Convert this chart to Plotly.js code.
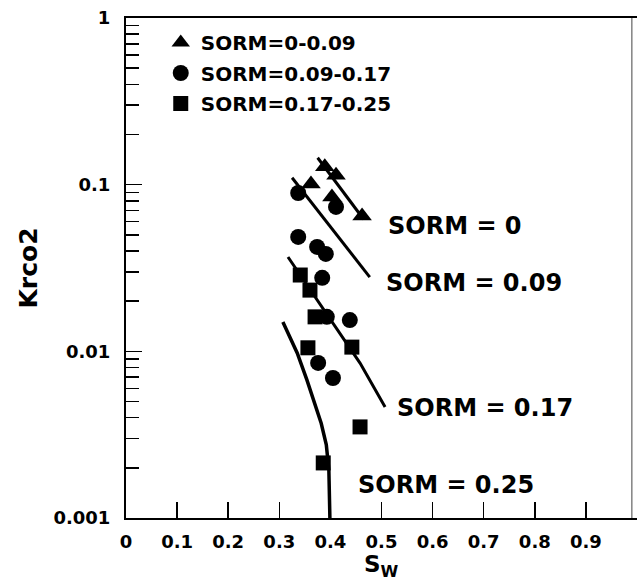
<!DOCTYPE html>
<html>
<head>
<meta charset="utf-8">
<script src="https://cdn.plot.ly/plotly-3.0.1.min.js"></script>
<style>html,body{margin:0;padding:0;background:#fff;}#chart{width:637px;height:583px;}</style>
</head>
<body>
<div id="chart"></div>
<script>
// Measured points (Sw, Krco2)
const triSw = [0.389, 0.411, 0.362, 0.403, 0.462];
const triKr = [0.128, 0.114, 0.101, 0.0844, 0.0649];

const cirSw = [0.337, 0.411, 0.337, 0.374, 0.391, 0.384, 0.393, 0.438, 0.376, 0.405];
const cirKr = [0.0891, 0.0735, 0.0486, 0.0423, 0.0384, 0.0276, 0.0161, 0.0154, 0.00852, 0.00692];

const sqSw = [0.341, 0.360, 0.370, 0.442, 0.356, 0.458, 0.386];
const sqKr = [0.0287, 0.0233, 0.0161, 0.0106, 0.0105, 0.00352, 0.00214];

// Model curves
const c0Sw = [0.375, 0.465];
const c0Kr = [0.145, 0.062];
const c09Sw = [0.325, 0.477];
const c09Kr = [0.110, 0.0279];
const c17Sw = [0.317, 0.458, 0.507];
const c17Kr = [0.0368, 0.0085, 0.00464];
const c25Sw = [0.307, 0.322, 0.335, 0.354, 0.370, 0.382, 0.392, 0.397, 0.399];
const c25Kr = [0.0150, 0.0120, 0.00978, 0.00674, 0.00480, 0.00370, 0.00275, 0.00194, 0.001];

const legendNames = ['SORM=0-0.09', 'SORM=0.09-0.17', 'SORM=0.17-0.25'];
const curveLabels = ['SORM = 0', 'SORM = 0.09', 'SORM = 0.17', 'SORM = 0.25'];
const curveLabelSw = [0.509, 0.505, 0.527, 0.450];
const curveLabelKr = [0.0565, 0.0257, 0.00457, 0.00158];

const xTitle = 'S<sub>W</sub>';
const yTitle = 'Krco2';
const yMajor = [0.001, 0.01, 0.1, 1];
const yMajorText = ['0.001', '0.01', '0.1', '1'];

const FONT = 'DejaVu Sans, Liberation Sans, Arial, sans-serif';

const yMinor = [];
for (let d = -3; d < 0; d++) {
  for (let m = 2; m <= 9; m++) yMinor.push(m * Math.pow(10, d));
}

const lineStyle = {color: '#000', width: 3};
const traces = [
  {x: triSw, y: triKr, mode: 'markers', name: legendNames[0], legendgroup: 'a',
   marker: {symbol: 'triangle-up', size: 17, color: '#000'}},
  {x: cirSw, y: cirKr, mode: 'markers', name: legendNames[1], legendgroup: 'b',
   marker: {symbol: 'circle', size: 16, color: '#000'}},
  {x: sqSw, y: sqKr, mode: 'markers', name: legendNames[2], legendgroup: 'c',
   marker: {symbol: 'square', size: 15, color: '#000'}},
  {x: c0Sw, y: c0Kr, mode: 'lines', line: lineStyle, showlegend: false},
  {x: c09Sw, y: c09Kr, mode: 'lines', line: lineStyle, showlegend: false},
  {x: c17Sw, y: c17Kr, mode: 'lines', line: lineStyle, showlegend: false},
  {x: c25Sw, y: c25Kr, mode: 'lines', line: {color: '#000', width: 3.5}, showlegend: false}
];

const annotations = curveLabels.map((t, i) => ({
  x: curveLabelSw[i], y: Math.log10(curveLabelKr[i]), xref: 'x', yref: 'y',
  text: t, showarrow: false, xanchor: 'left', yanchor: 'middle',
  font: {family: FONT, size: 24, color: '#000', weight: 'bold'}
}));
annotations.push({
  x: 0.5, y: -0.129, xref: 'paper', yref: 'paper', text: xTitle,
  showarrow: false, xanchor: 'center', yanchor: 'bottom',
  font: {family: FONT, size: 23, color: '#000', weight: 'bold'}
});

const layout = {
  width: 637, height: 583,
  margin: {l: 126, r: 0, t: 18, b: 65},
  paper_bgcolor: '#fff', plot_bgcolor: '#fff',
  font: {family: FONT, color: '#000'},
  showlegend: true,
  legend: {x: 0.068, y: 0.99, xanchor: 'left', yanchor: 'top',
           bgcolor: 'rgba(0,0,0,0)', traceorder: 'grouped', tracegroupgap: 1.5,
           font: {family: FONT, size: 20, color: '#000', weight: 'bold'}},
  xaxis: {
    range: [0, 1], dtick: 0.1, tick0: 0,
    ticks: 'inside', ticklen: 16, tickwidth: 1.5, tickcolor: '#000',
    showline: true, linewidth: 2, linecolor: '#000', mirror: true,
    showgrid: false, zeroline: false,
    ticklabelstandoff: 6,
    tickfont: {family: FONT, size: 18, color: '#000', weight: 'bold'}
  },
  yaxis: {
    type: 'log', range: [-3, 0],
    tickmode: 'array', tickvals: yMajor, ticktext: yMajorText,
    ticks: 'inside', ticklen: 16, tickwidth: 1.5, tickcolor: '#000',
    minor: {tickmode: 'array', tickvals: yMinor, ticks: 'inside', ticklen: 13, tickwidth: 1.5, tickcolor: '#000'},
    showline: true, linewidth: 2, linecolor: '#000',
    showgrid: false, zeroline: false,
    ticklabelstandoff: 10,
    tickfont: {family: FONT, size: 18, color: '#000', weight: 'bold'},
    title: {text: yTitle, standoff: 9,
            font: {family: FONT, size: 25, color: '#000', weight: 'bold'}}
  },
  shapes: [
    {type: 'line', xref: 'paper', yref: 'paper', x0: 0.990, x1: 0.990, y0: 0, y1: 1,
     line: {color: '#444', width: 1}}
  ],
  annotations: annotations
};

Plotly.newPlot('chart', traces, layout, {displayModeBar: false, staticPlot: true});
</script>
</body>
</html>
